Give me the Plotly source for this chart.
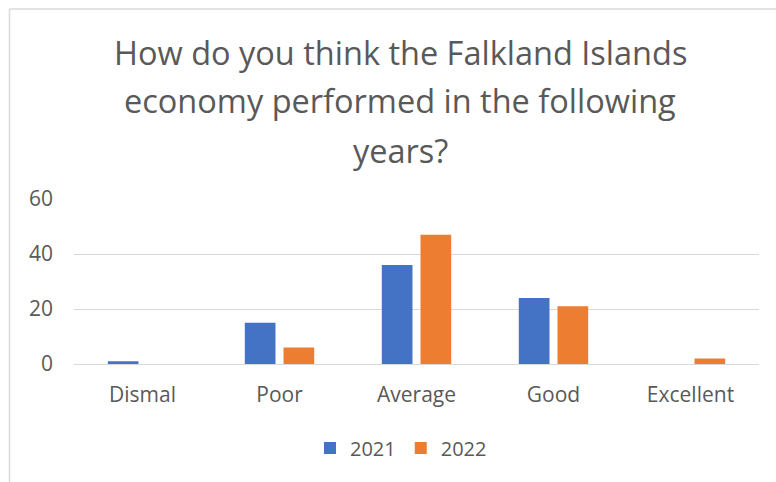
import plotly.graph_objects as go

categories = ["Dismal", "Poor", "Average", "Good", "Excellent"]
values_2021 = [1, 15, 36, 24, 0]
values_2022 = [0, 6, 47, 21, 2]
y_ticks = [0, 20, 40, 60]
title_lines = [
    "How do you think the Falkland Islands",
    "economy performed in the following",
    "years?",
]

W, H = 776, 482
L, R, T, B = 74, 17, 199, 118
plot_w = W - L - R
plot_h = H - T - B


def px_x(x):
    return (x - L) / plot_w


def px_y(y):
    return (H - B - y) / plot_h


text_color = "#595959"
font_family = "'Open Sans', Lato, sans-serif"

fig = go.Figure()
fig.add_trace(go.Bar(x=categories, y=values_2021, name="2021",
                     marker=dict(color="#4472C4", line=dict(width=0))))
fig.add_trace(go.Bar(x=categories, y=values_2022, name="2022",
                     marker=dict(color="#ED7D31", line=dict(width=0))))

annotations = []
for i, line in enumerate(title_lines):
    annotations.append(dict(
        text=line, xref="paper", yref="paper", x=px_x(400), y=px_y(52 + i * 49),
        xanchor="center", yanchor="middle", showarrow=False,
        font=dict(size=32.5, color=text_color, family=font_family),
    ))

shapes = [
    dict(type="line", xref="paper", yref="paper", x0=px_x(9.5), x1=px_x(W + 5),
         y0=px_y(9), y1=px_y(9), line=dict(color="#d9d9d9", width=1.5)),
    dict(type="line", xref="paper", yref="paper", x0=px_x(9.5), x1=px_x(9.5),
         y0=px_y(9), y1=px_y(H + 5), line=dict(color="#d9d9d9", width=1.5)),
]

fig.update_layout(
    width=W, height=H,
    margin=dict(l=L, r=R, t=T, b=B, pad=0),
    paper_bgcolor="white", plot_bgcolor="white",
    barmode="group", bargap=0.435, bargroupgap=0.207,
    showlegend=True,
    legend=dict(orientation="h", xanchor="center", yanchor="middle",
                x=px_x(401), y=px_y(448),
                font=dict(size=20, color=text_color, family=font_family),
                itemwidth=30, traceorder="normal"),
    annotations=annotations,
    shapes=shapes,
    font=dict(family=font_family, color=text_color),
)
fig.update_xaxes(showgrid=False, showline=False, ticks="",
                 tickfont=dict(size=21, color=text_color, family=font_family),
                 ticklabelstandoff=16)
fig.update_yaxes(range=[0, 60], tickvals=y_ticks, showgrid=True,
                 gridcolor="#d9d9d9", gridwidth=1.2, zeroline=True,
                 zerolinecolor="#d9d9d9", zerolinewidth=1.2, showline=False,
                 ticks="", tickfont=dict(size=21, color=text_color, family=font_family),
                 ticklabelstandoff=20)

fig.write_html("out.html")
